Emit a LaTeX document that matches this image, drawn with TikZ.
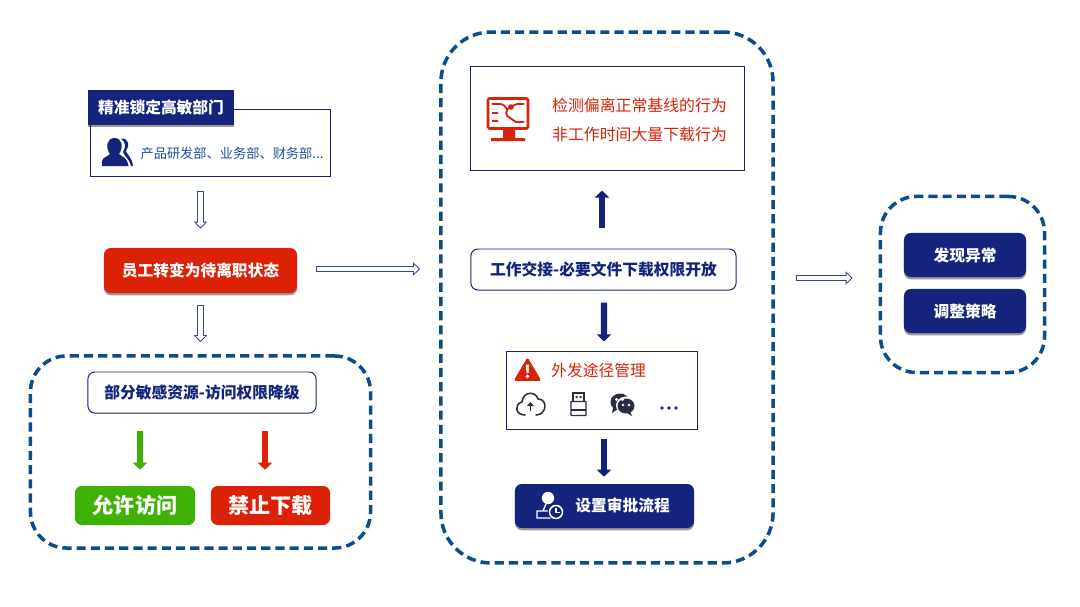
\documentclass[tikz,border=0pt]{standalone}
\usepackage{fontspec}
\setmainfont{Noto Sans CJK SC}
\usetikzlibrary{calc,arrows.meta,positioning,shadows}
\definecolor{navy}{HTML}{14237C}
\definecolor{zoneblue}{HTML}{0B4C8C}
\definecolor{alertred}{HTML}{DB2106}
\definecolor{okgreen}{HTML}{3DB204}
\definecolor{deptblue}{HTML}{1F4E9E}
\definecolor{inkgrey}{HTML}{2B2D42}
\tikzset{
  zone/.style={draw=zoneblue,line width=2.5pt,dash pattern=on 6.5pt off 3.6pt,rounded corners=.9cm},
  linebox/.style={draw=navy,line width=.7pt,fill=white},
  pillbox/.style={linebox,rounded corners=.17cm,text=navy,font=\bfseries\fontsize{11.2}{13}\selectfont},
  solidbox/.style={fill=#1,rounded corners=.17cm,text=white,font=\bfseries\fontsize{11.2}{13}\selectfont},
  softshadow/.style={drop shadow={shadow xshift=0pt,shadow yshift=-1.6pt,opacity=.4,fill=black}},
  hollowarrow/.style={white,line width=3.3pt,shorten >=1.03pt,shorten <=.7pt,-{Triangle[length=3.3pt,width=6pt]},
    preaction={draw,navy!85,line width=4.7pt,shorten >=0pt,shorten <=0pt,-{Triangle[length=5pt,width=9.2pt]}}},
  solidarrow/.style={draw=#1,line width=4.5pt,-{Triangle[length=5pt,width=10pt]}}
}
\newcommand{\usersicon}{\fill[navy] (102,166) -- (102,161) .. controls (103,157) and (107,157) .. (110,154) .. controls (105,147) and (107,138) .. (114.5,138) .. controls (122,138) and (124,147) .. (119,154) .. controls (122,157) and (127,157) .. (128.5,166) -- cycle;
\fill[navy] (121,138.5) .. controls (129,138) and (130,146) .. (126,151) .. controls (127,155) and (132,157) .. (133,166) -- (131,166) .. controls (129,158) and (124,156) .. (123,152) .. controls (126,147) and (126,142) .. (121,138.5) -- cycle;}
\newcommand{\monitoricon}{\draw[alertred,line width=1.8pt,rounded corners=1pt] (488,98.5) rectangle (528,128.5);
\fill[alertred] (503,128) rectangle (515,138) (491,138) rectangle (525,141);
\draw[alertred,line width=1.3pt] (492,104) -- (500,104) .. controls (504,104) and (505,107) .. (507,109) (492,113) -- (498,113) (492,121) -- (498,121) (524,104) -- (517,104) -- (510,107) .. controls (505,110) and (505,116) .. (510,118) -- (516,122) -- (524,122);
\fill[alertred] (511,107) circle (2pt);}
\newcommand{\warningicon}{\fill[alertred,draw=alertred,line width=2pt,line join=round] (527.5,360) -- (516,379.5) -- (539,379.5) -- cycle;
\fill[white] (525.8,364.5) -- (529.2,364.5) -- (528.5,373) -- (526.5,373) -- cycle (527.5,376.3) circle (1.4pt);}
\newcommand{\cloudicon}{\draw[inkgrey,line width=1.1pt,line cap=round] (525,415) .. controls (515,415) and (514,404) .. (522,402) .. controls (523,391) and (536,391) .. (538,399) .. controls (548,399) and (547,415) .. (536,415);
\draw[inkgrey,line width=1.1pt,-{Triangle[length=3pt,width=5pt]}] (530.5,411) -- (530.5,402);}
\newcommand{\usbicon}{\draw[inkgrey,line width=1pt] (573,393) rectangle (584,401.5);
\fill[inkgrey] (575.5,396) rectangle (577.5,398) (579.5,396) rectangle (581.5,398);
\draw[inkgrey,line width=1pt,rounded corners=.5pt] (571,401.5) rectangle (586,415.5);
\draw[inkgrey,line width=1pt] (571,410) -- (586,410);}
\newcommand{\chaticon}{\fill[inkgrey] (620,402) ellipse (9.5 and 8.5);
\fill[inkgrey] (613,408) -- (612,413) -- (618,409) -- cycle;
\fill[white] (626,405.5) ellipse (10 and 9);
\fill[inkgrey] (626,406) ellipse (8.5 and 7.5);
\fill[inkgrey] (630,411) -- (632,416) -- (626,412) -- cycle;
\fill[white] (616.5,399.5) circle (1.1pt) (622.5,399.5) circle (1.1pt) (623,405) circle (1pt) (629,405) circle (1pt);}
\newcommand{\dotsicon}{\fill[navy] (662,408) circle (1.4pt) (669,408) circle (1.4pt) (676,408) circle (1.4pt);}
\newcommand{\approveicon}{\fill[white] (548,498) circle (6.2);
\draw[white,line width=1pt] (546,504) -- (543,511) (537,511) rectangle (551,518);
\fill[navy] (556,512) circle (8.2);
\draw[white,line width=1.1pt] (556,512) circle (6.5);
\draw[white,line width=1pt] (556,508) -- (556,512.5) -- (560,512.5);}

\begin{document}
\begin{tikzpicture}[x=.025cm,y=-.025cm]
\useasboundingbox[fill=white] (0,0) rectangle (1080,606);
% dashed zones
\node[zone,minimum width=8.5cm,minimum height=4.8cm] (leftzone) at (200.5,452) {};
\node[zone,minimum width=8.3cm,minimum height=13.27cm,rounded corners=1.25cm] (midzone) at (607,297.5) {};
\node[zone,minimum width=4.1cm,minimum height=4.4cm] (rightzone) at (962.5,284.5) {};
% left column
\node[linebox,minimum width=5.975cm,minimum height=1.675cm] (dept) at (210.5,142.5) {};
\node[fill=navy,text=white,font=\bfseries\fontsize{11.2}{13}\selectfont,minimum width=3.65cm,minimum height=.875cm,softshadow] (depttitle) at (161,107.5) {精准锁定高敏部门};
\usersicon
\node[text=deptblue,font=\fontsize{9.4}{11}\selectfont,inner sep=0pt] (deptlist) at (232,153) {产品研发部、业务部、财务部...};
\node[solidbox=alertred,minimum width=4.825cm,minimum height=1.125cm,softshadow] (status) at (200.5,270.5) {员工转变为待离职状态};
\node[pillbox,minimum width=5.7cm,minimum height=1.025cm] (perm) at (202,392.5) {部分敏感资源-访问权限降级};
\node[solidbox=okgreen,minimum width=3cm,minimum height=.975cm,font=\bfseries\fontsize{15}{17}\selectfont] (allow) at (135,505.5) {允许访问};
\node[solidbox=alertred,minimum width=2.975cm,minimum height=.975cm,font=\bfseries\fontsize{15}{17}\selectfont] (deny) at (270.5,505.5) {禁止下载};
% middle column
\node[linebox,minimum width=6.825cm,minimum height=2.575cm] (detect) at (607.5,118.5) {};
\monitoricon
\node[text=alertred,font=\fontsize{11.3}{13}\selectfont,align=left,inner sep=0pt] (detecttext) at (639.5,120) {检测偏离正常基线的行为\\[7.5pt]非工作时间大量下载行为};
\node[pillbox,minimum width=6.625cm,minimum height=1.025cm] (handover) at (603.5,269.5) {工作交接-必要文件下载权限开放};
\node[linebox,minimum width=4.75cm,minimum height=1.95cm] (outgoing) at (602,390) {};
\warningicon
\node[text=alertred,font=\fontsize{11.2}{13}\selectfont,inner sep=0pt] (outgoingtitle) at (598.5,370) {外发途径管理};
\cloudicon
\usbicon
\chaticon
\dotsicon
\node[solidbox=navy,minimum width=4.475cm,minimum height=1.1cm,softshadow] (approve) at (604.5,506) {};
\approveicon
\node[text=white,font=\bfseries\fontsize{11.2}{13}\selectfont,inner sep=0pt] (approvetext) at (622.5,505) {设置审批流程};
% right column
\node[solidbox=navy,minimum width=3.05cm,minimum height=1.1cm,softshadow] (found) at (965,255) {发现异常};
\node[solidbox=navy,minimum width=3.05cm,minimum height=1.1cm,softshadow] (adjust) at (965,311) {调整策略};
% connectors
\coordinate (leftout) at ($(status.east)+(19,-1.5)$);
\coordinate (rightout) at (796,278);
\draw[hollowarrow] ($(status.north)+(0,-57)$) -- ($(status.north)+(0,-19)$);
\draw[hollowarrow] ($(status.south)+(0,12)$) -- ($(leftzone.north)+(0,-12)$);
\draw[hollowarrow] (leftout) -- ($(midzone.west)+(-19,-28.5)$);
\draw[hollowarrow] (rightout) -- ($(rightzone.west)+(-26,-6.5)$);
\draw[solidarrow=okgreen] ($(perm.south)+(-62,17)$) -- ($(allow.north)+(5,-16)$);
\draw[solidarrow=alertred] ($(perm.south)+(63,17)$) -- ($(deny.north)+(-5.5,-16)$);
\draw[solidarrow=navy] ($(handover.north)+(-1.5,-21)$) -- ($(detect.south)+(-5.5,20)$);
\draw[solidarrow=navy] ($(handover.south)+(.5,12)$) -- ($(outgoing.north)+(2,-9)$);
\draw[solidarrow=navy] ($(outgoing.south)+(2,9)$) -- ($(approve.north)+(-.5,-7)$);
\end{tikzpicture}
\end{document}
